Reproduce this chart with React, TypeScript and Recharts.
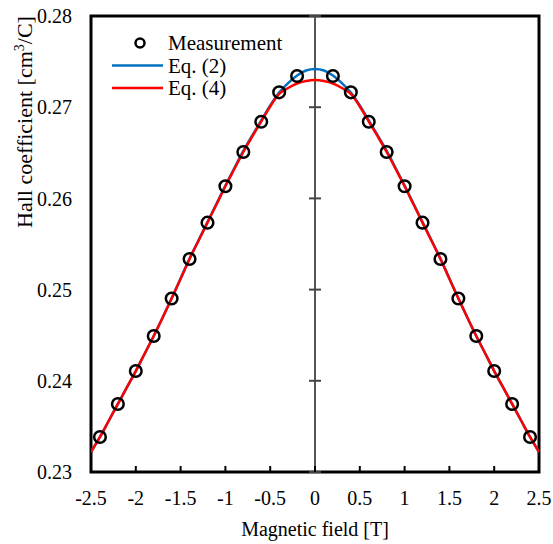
import React from 'react'
import {
  ComposedChart,
  Line,
  Scatter,
  XAxis,
  YAxis,
  ReferenceLine,
  ReferenceArea,
  Legend,
  Label,
} from 'recharts'

// magnetic field grid for the model curves [T]
const fieldT = [
  -2.5, -2.4, -2.3, -2.2, -2.1, -2.0, -1.9, -1.8, -1.7, -1.6, -1.5, -1.4, -1.3,
  -1.2, -1.1, -1.0, -0.9, -0.8, -0.7, -0.6, -0.5, -0.4, -0.3, -0.2, -0.1, 0,
  0.1, 0.2, 0.3, 0.4, 0.5, 0.6, 0.7, 0.8, 0.9, 1.0, 1.1, 1.2, 1.3, 1.4, 1.5,
  1.6, 1.7, 1.8, 1.9, 2.0, 2.1, 2.2, 2.3, 2.4, 2.5,
]

// Eq. (2), blue
const eq2 = [
  0.23219, 0.23384, 0.23565, 0.23746, 0.23927, 0.24107, 0.24299, 0.24491, 0.24694,
  0.24905, 0.25122, 0.25341, 0.25541, 0.25741, 0.25941, 0.26141, 0.26333, 0.2652,
  0.2669, 0.26854, 0.27019, 0.27161, 0.27265, 0.27348, 0.27402, 0.27419, 0.27402,
  0.27348, 0.27265, 0.27161, 0.27019, 0.26854, 0.2669, 0.2652, 0.26333, 0.26141,
  0.25941, 0.25741, 0.25541, 0.25341, 0.25122, 0.24905, 0.24694, 0.24491, 0.24299,
  0.24107, 0.23927, 0.23746, 0.23565, 0.23384, 0.23219,
]

// Eq. (4), red
const eq4 = [
  0.23219, 0.23384, 0.23565, 0.23746, 0.23927, 0.24107, 0.24299, 0.24491, 0.24694,
  0.24902, 0.25118, 0.25336, 0.25535, 0.25734, 0.25933, 0.26133, 0.26322, 0.26509,
  0.26679, 0.26843, 0.27008, 0.27145, 0.27211, 0.2726, 0.27287, 0.27298, 0.27287,
  0.2726, 0.27211, 0.27145, 0.27008, 0.26843, 0.26679, 0.26509, 0.26322, 0.26133,
  0.25933, 0.25734, 0.25535, 0.25336, 0.25118, 0.24902, 0.24694, 0.24491, 0.24299,
  0.24107, 0.23927, 0.23746, 0.23565, 0.23384, 0.23219,
]

// measurement points
const measuredField = [
  -2.4, -2.2, -2.0, -1.8, -1.6, -1.4, -1.2, -1.0, -0.8, -0.6, -0.4, -0.2,
  0.2, 0.4, 0.6, 0.8, 1.0, 1.2, 1.4, 1.6, 1.8, 2.0, 2.2, 2.4,
]
const measuredHall = [
  0.23384, 0.23746, 0.24107, 0.24491, 0.24902, 0.25336, 0.25734, 0.26133, 0.26509,
  0.26841, 0.27163, 0.27342, 0.27342, 0.27163, 0.26841, 0.26509, 0.26133, 0.25734,
  0.25336, 0.24902, 0.24491, 0.24107, 0.23746, 0.23384,
]

const xTicks = [-2.5, -2, -1.5, -1, -0.5, 0, 0.5, 1, 1.5, 2, 2.5]
const yTicks = [0.23, 0.24, 0.25, 0.26, 0.27, 0.28]

const BLUE = '#0070C0'
const RED = '#FF0000'
const FONT = '"Liberation Serif", "Times New Roman", serif'

const curveRows = fieldT.map((f, i) => ({ field: f, eq2: eq2[i], eq4: eq4[i] }))
const measuredRows = measuredField.map((f, i) => ({ field: f, measured: measuredHall[i] }))

const XTick = (props: any) => {
  const { x, y, payload } = props
  return (
    <g>
      <line x1={x} x2={x} y1={y} y2={y - 6} stroke="#000" strokeWidth={2} />
      <text x={x} y={y + 33} textAnchor="middle" fontSize={20} fontFamily={FONT} fill="#000">
        {payload.value}
      </text>
    </g>
  )
}

const Circle = (props: any) => (
  <circle cx={props.cx} cy={props.cy} r={5.8} fill="none" stroke="#000" strokeWidth={2.5} />
)

const legendItems = [
  { label: 'Measurement', kind: 'marker', color: '#000' },
  { label: 'Eq. (2)', kind: 'line', color: BLUE },
  { label: 'Eq. (4)', kind: 'line', color: RED },
]

const renderLegend = () => (
  <svg width={200} height={80}>
    {legendItems.map((item, i) => {
      const cy = 18 + i * 22.5
      return (
        <g key={item.label}>
          {item.kind === 'marker' ? (
            <circle cx={40} cy={cy} r={4.5} fill="none" stroke={item.color} strokeWidth={2.5} />
          ) : (
            <line x1={12} x2={63} y1={cy} y2={cy} stroke={item.color} strokeWidth={2.5} />
          )}
          <text x={68} y={cy + 7} fontSize={21} fontFamily={FONT} fill="#000">
            {item.label}
          </text>
        </g>
      )
    })}
  </svg>
)

export default function App() {
  return (
    <div style={{ width: 553, height: 544, background: '#fff' }}>
      <style>{'body { margin: 0; }'}</style>
      <ComposedChart
        width={553}
        height={544}
        data={curveRows}
        margin={{ top: 16, right: 14, bottom: 0, left: 0 }}
      >
        <XAxis
          type="number"
          dataKey="field"
          domain={[-2.5, 2.5]}
          ticks={xTicks}
          allowDataOverflow
          height={72}
          axisLine={false}
          tickLine={false}
          tickSize={0}
          tickMargin={0}
          tick={<XTick />}
        >
          <Label
            content={({ viewBox }: any) => (
              <text
                x={viewBox.x + viewBox.width / 2}
                y={viewBox.y + 64}
                textAnchor="middle"
                fontSize={20}
                fontFamily={FONT}
                fill="#000"
              >
                Magnetic field [T]
              </text>
            )}
          />
        </XAxis>
        <YAxis
          type="number"
          domain={[0.23, 0.28]}
          ticks={yTicks}
          allowDataOverflow
          width={91}
          axisLine={false}
          tickLine={false}
          tickSize={0}
          tickMargin={19}
          tickFormatter={(v: number) => v.toFixed(2)}
          tick={{ fontSize: 20, fontFamily: FONT, fill: '#000' }}
        >
          <Label
            content={() => (
              <text
                x={32}
                y={122}
                transform="rotate(-90 32 122)"
                textAnchor="middle"
                fontSize={22}
                fontFamily={FONT}
                fill="#000"
              >
                Hall coefficient [cm
                <tspan dy={-8} fontSize={14}>3</tspan>
                <tspan dy={8}>/C]</tspan>
              </text>
            )}
          />
        </YAxis>
        <ReferenceLine x={0} stroke="#555" strokeWidth={2} />
        {yTicks.map((t) => (
          <ReferenceLine
            key={t}
            segment={[
              { x: -0.067, y: t },
              { x: 0.067, y: t },
            ]}
            stroke="#444"
            strokeWidth={2}
          />
        ))}
        <Line
          type="monotone"
          dataKey="eq2"
          stroke={BLUE}
          strokeWidth={2.5}
          dot={false}
          isAnimationActive={false}
        />
        <Line
          type="monotone"
          dataKey="eq4"
          stroke={RED}
          strokeWidth={2.5}
          dot={false}
          isAnimationActive={false}
        />
        <Scatter
          data={measuredRows}
          dataKey="measured"
          shape={<Circle />}
          isAnimationActive={false}
        />
        <ReferenceArea
          x1={-2.5}
          x2={2.5}
          y1={0.23}
          y2={0.28}
          fill="none"
          stroke="#000"
          strokeWidth={3}
          fillOpacity={0}
        />
        <Legend
          layout="vertical"
          align="center"
          verticalAlign="middle"
          content={renderLegend}
          wrapperStyle={{ left: 100, top: 25, width: 200, height: 80 }}
        />
      </ComposedChart>
    </div>
  )
}
